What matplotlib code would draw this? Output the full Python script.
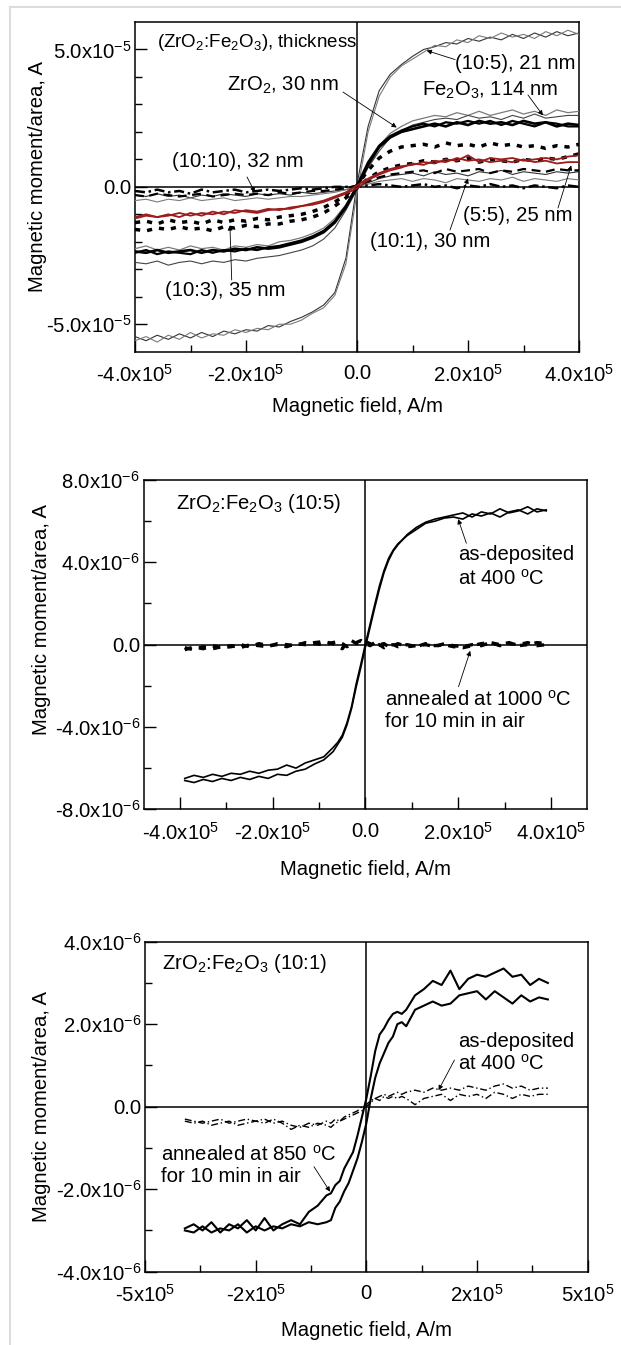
import matplotlib
matplotlib.use("Agg")
import matplotlib.pyplot as plt
from matplotlib.lines import Line2D
import numpy as np

plt.rcParams['font.family'] = ['Liberation Sans', 'DejaVu Sans']
plt.rcParams['mathtext.fontset'] = 'custom'
plt.rcParams['mathtext.rm'] = 'Liberation Sans'
plt.rcParams['mathtext.it'] = 'Liberation Sans:italic'
plt.rcParams['mathtext.bf'] = 'Liberation Sans:bold'
plt.rcParams['mathtext.default'] = 'regular'

# ---------------- DATA ----------------
# Panel 1: field in units of 1e5 A/m, moment in units of 1e-5 A
field1 = [-4.0, -3.8, -3.6, -3.4, -3.2, -3.0, -2.8, -2.6, -2.4, -2.2, -2.0, -1.8, -1.6, -1.4,
          -1.2, -1.0, -0.8, -0.6, -0.4, -0.2, 0.0, 0.2, 0.4, 0.6, 0.8, 1.0, 1.2, 1.4, 1.6, 1.8,
          2.0, 2.2, 2.4, 2.6, 2.8, 3.0, 3.2, 3.4, 3.6, 3.8, 4.0]

m105_a = [-5.45, -5.6, -5.4, -5.55, -5.35, -5.5, -5.3, -5.45, -5.25, -5.35, -5.2, -5.25, -5.05, -5.1,
          -4.9, -4.75, -4.55, -4.3, -3.85, -2.6, 0.1,
          2.2, 3.5, 4.1, 4.45, 4.75, 5.0, 5.1, 5.25, 5.2, 5.4, 5.3, 5.45, 5.35, 5.55, 5.4, 5.6, 5.45, 5.65, 5.5, 5.6]
m105_b = [-5.6, -5.45, -5.65, -5.4, -5.55, -5.3, -5.5, -5.35, -5.4, -5.2, -5.3, -5.15, -5.2, -5.0,
          -5.0, -4.85, -4.6, -4.4, -3.95, -2.8, -0.2,
          2.0, 3.3, 4.0, 4.4, 4.65, 4.9, 5.15, 5.1, 5.35, 5.25, 5.5, 5.4, 5.6, 5.45, 5.55, 5.4, 5.65, 5.5, 5.7, 5.55]
fe2o3_a = [-2.25, -2.15, -2.3, -2.2, -2.3, -2.15, -2.25, -2.2, -2.3, -2.15, -2.2, -2.1, -2.15, -2.0,
           -1.95, -1.85, -1.7, -1.5, -1.15, -0.65, 0.0,
           0.8, 1.5, 1.95, 2.2, 2.4, 2.5, 2.6, 2.55, 2.7, 2.6, 2.75, 2.6, 2.7, 2.8, 2.65, 2.75, 2.6, 2.8, 2.7, 2.75]
fe2o3_b = [-2.75, -2.8, -2.7, -2.85, -2.75, -2.7, -2.8, -2.7, -2.75, -2.65, -2.7, -2.6, -2.55, -2.5,
           -2.4, -2.3, -2.15, -1.9, -1.5, -0.85, -0.1,
           0.7, 1.3, 1.8, 2.05, 2.25, 2.35, 2.45, 2.5, 2.45, 2.6, 2.5, 2.55, 2.45, 2.6, 2.5, 2.65, 2.5, 2.55, 2.6, 2.6]
zro2_a = [-2.35, -2.4, -2.3, -2.4, -2.35, -2.3, -2.4, -2.3, -2.35, -2.25, -2.3, -2.2, -2.25, -2.2,
          -2.1, -2.0, -1.85, -1.65, -1.3, -0.75, 0.0,
          0.8, 1.45, 1.8, 2.0, 2.1, 2.2, 2.3, 2.2, 2.35, 2.25, 2.4, 2.3, 2.35, 2.25, 2.4, 2.3, 2.35, 2.2, 2.3, 2.25]
zro2_b = [-2.4, -2.3, -2.45, -2.35, -2.4, -2.45, -2.3, -2.4, -2.3, -2.35, -2.25, -2.3, -2.2, -2.15,
          -2.05, -1.95, -1.8, -1.6, -1.25, -0.7, 0.05,
          0.9, 1.5, 1.85, 2.05, 2.2, 2.3, 2.2, 2.35, 2.3, 2.4, 2.3, 2.4, 2.25, 2.4, 2.3, 2.2, 2.35, 2.3, 2.2, 2.2]
m103_a = [-1.3, -1.25, -1.35, -1.2, -1.3, -1.25, -1.35, -1.2, -1.3, -1.2, -1.25, -1.15, -1.2, -1.1,
          -1.05, -1.0, -0.9, -0.75, -0.55, -0.3, 0.05,
          0.6, 1.05, 1.3, 1.45, 1.5, 1.55, 1.45, 1.6, 1.5, 1.55, 1.45, 1.6, 1.5, 1.55, 1.45, 1.5, 1.4, 1.5, 1.45, 1.55]
m103_b = [-1.55, -1.6, -1.5, -1.55, -1.45, -1.55, -1.5, -1.6, -1.45, -1.5, -1.4, -1.45, -1.35, -1.35,
          -1.25, -1.2, -1.1, -0.95, -0.7, -0.4, -0.05,
          0.3, 0.55, 0.7, 0.8, 0.85, 0.95, 0.9, 1.0, 0.95, 1.05, 0.9, 1.0, 0.95, 0.9, 1.0, 0.95, 1.05, 1.0, 1.1, 1.2]
m55_a = [-1.1, -1.0, -1.1, -1.05, -0.95, -1.05, -0.95, -1.0, -0.9, -0.95, -0.85, -0.9, -0.8, -0.85,
         -0.75, -0.7, -0.6, -0.5, -0.35, -0.2, 0.05,
         0.3, 0.5, 0.65, 0.75, 0.8, 0.9, 0.85, 1.0, 0.95, 1.15, 0.9, 1.05, 1.0, 1.05, 0.95, 1.0, 1.05, 1.0, 1.1, 1.15]
m55_b = [-1.15, -1.05, -1.1, -1.0, -1.1, -0.95, -1.05, -0.9, -1.0, -0.85, -0.9, -0.95, -0.85, -0.8,
         -0.8, -0.7, -0.65, -0.55, -0.4, -0.25, -0.05,
         0.25, 0.45, 0.6, 0.7, 0.85, 0.8, 0.95, 0.9, 1.05, 0.95, 1.0, 0.9, 0.95, 0.9, 1.0, 0.9, 0.95, 0.85, 0.9, 0.9]
m101_a = [-0.3, -0.35, -0.25, -0.35, -0.3, -0.4, -0.3, -0.35, -0.25, -0.3, -0.35, -0.25, -0.3, -0.25,
          -0.3, -0.2, -0.25, -0.2, -0.15, -0.1, 0.0,
          0.15, 0.3, 0.4, 0.45, 0.5, 0.4, 0.55, 0.45, 0.5, 0.4, 0.55, 0.5, 0.6, 0.45, 0.55, 0.5, 0.45, 0.55, 0.5, 0.55]
m101_b = [-0.5, -0.45, -0.55, -0.45, -0.5, -0.4, -0.5, -0.45, -0.4, -0.5, -0.45, -0.4, -0.45, -0.4,
          -0.35, -0.35, -0.3, -0.25, -0.2, -0.1, 0.0,
          0.1, 0.2, 0.25, 0.3, 0.2, 0.3, 0.25, 0.15, 0.3, 0.25, 0.2, 0.3, 0.25, 0.35, 0.2, 0.3, 0.25, 0.2, 0.3, 0.25]
m1010_a = [-0.15, -0.2, -0.1, -0.2, -0.15, -0.25, -0.1, -0.2, -0.15, -0.1, -0.2, -0.15, -0.1, -0.15,
           -0.1, -0.05, -0.1, -0.05, 0.0, 0.0, 0.0,
           0.05, 0.1, 0.05, 0.0, 0.05, 0.1, 0.0, 0.05, -0.05, 0.05, 0.0, 0.1, 0.0, 0.05, -0.05, 0.05, 0.0, -0.05, 0.05, 0.0]
m1010_b = [-0.3, -0.35, -0.25, -0.3, -0.35, -0.3, -0.25, -0.35, -0.3, -0.25, -0.3, -0.25, -0.3, -0.2,
           -0.25, -0.2, -0.15, -0.15, -0.1, -0.05, 0.05,
           0.2, 0.35, 0.45, 0.5, 0.55, 0.6, 0.5, 0.65, 0.55, 0.6, 0.65, 0.5, 0.6, 0.55, 0.65, 0.6, 0.55, 0.65, 0.6, 0.6]

# Panel 2: field in 1e5 A/m, moment in 1e-6 A
field2 = [-3.9, -3.7, -3.5, -3.3, -3.1, -2.9, -2.7, -2.5, -2.3, -2.1, -1.9, -1.7, -1.5, -1.3, -1.1, -0.9, -0.7,
          -0.6, -0.5, -0.4, -0.3, -0.2, -0.1, 0.0, 0.1, 0.2, 0.3, 0.4, 0.5, 0.6,
          0.7, 0.9, 1.1, 1.3, 1.5, 1.7, 1.9, 2.1, 2.3, 2.5, 2.7, 2.9, 3.1, 3.3, 3.5, 3.7, 3.9]
asdep2_a = [-6.5, -6.35, -6.45, -6.3, -6.4, -6.25, -6.3, -6.15, -6.25, -6.1, -6.05, -5.85, -6.0, -5.75, -5.6, -5.45, -5.0,
            -4.75, -4.4, -3.8, -3.0, -1.9, -0.95, 0.05, 1.0, 1.95, 2.85, 3.6, 4.2, 4.6,
            4.9, 5.3, 5.6, 5.9, 6.0, 6.15, 6.2, 6.1, 6.35, 6.25, 6.4, 6.2, 6.45, 6.55, 6.35, 6.6, 6.5]
asdep2_b = [-6.6, -6.7, -6.55, -6.65, -6.5, -6.6, -6.45, -6.55, -6.4, -6.5, -6.3, -6.35, -6.15, -6.05, -5.8, -5.6, -5.2,
            -4.85, -4.5, -3.9, -3.1, -2.05, -1.1, -0.1, 0.85, 1.8, 2.7, 3.5, 4.1, 4.55,
            4.85, 5.35, 5.7, 5.95, 6.1, 6.2, 6.3, 6.4, 6.2, 6.45, 6.35, 6.6, 6.4, 6.5, 6.7, 6.45, 6.55]
ann2_a = [-0.25, -0.1, -0.2, -0.05, -0.15, -0.1, 0.0, -0.1, 0.05, -0.05, 0.0, -0.1, 0.05, 0.0, 0.1, 0.15, 0.05,
          -0.1, -0.2, 0.1, 0.2, 0.05, 0.1, 0.15, 0.05, -0.1, 0.0, -0.15, -0.05, 0.0,
          -0.1, 0.0, -0.1, 0.05, -0.05, 0.0, -0.1, -0.15, -0.05, 0.05, 0.1, 0.0, 0.1, -0.05, 0.0, 0.1, 0.05]
ann2_b = [-0.15, -0.25, -0.1, -0.2, -0.1, -0.05, -0.15, 0.0, -0.05, -0.1, 0.05, 0.0, -0.05, 0.1, 0.05, 0.0, 0.1,
          0.15, 0.05, -0.1, 0.0, 0.1, 0.2, 0.05, -0.05, 0.1, 0.0, 0.05, -0.1, -0.05,
          0.05, -0.1, -0.05, 0.0, -0.1, 0.05, -0.05, -0.1, 0.0, -0.05, 0.1, -0.05, 0.05, 0.0, 0.1, -0.05, 0.0]

# Panel 3: field in 1e5 A/m, moment in 1e-6 A
field3 = [-4.1, -3.9, -3.7, -3.5, -3.3, -3.1, -2.9, -2.7, -2.5, -2.3, -2.1, -1.9, -1.7, -1.5, -1.3, -1.1, -0.9,
          -0.8, -0.7, -0.6, -0.5, -0.4, -0.3, -0.2, -0.1, 0.0, 0.1, 0.2, 0.3, 0.4, 0.5, 0.6, 0.7, 0.8,
          0.9, 1.1, 1.3, 1.5, 1.7, 1.9, 2.1, 2.3, 2.5, 2.7, 2.9, 3.1, 3.3, 3.5, 3.7, 3.9, 4.1]
ann3_a = [-2.95, -2.85, -3.0, -2.8, -3.05, -2.85, -2.95, -2.75, -3.0, -2.7, -3.0, -2.85, -2.75, -2.85, -2.55, -2.4, -2.15,
          -2.1, -1.9, -1.8, -1.5, -1.3, -1.1, -0.7, -0.25, 0.2, 0.75, 1.35, 1.75, 1.9, 2.1, 2.25, 2.3, 2.25,
          2.35, 2.7, 2.85, 3.05, 2.95, 3.3, 2.85, 3.1, 3.2, 3.15, 3.25, 3.35, 3.15, 3.2, 2.95, 3.1, 3.0]
ann3_b = [-3.0, -3.05, -2.9, -3.05, -2.95, -3.0, -2.85, -3.05, -2.9, -3.0, -2.9, -2.95, -2.85, -2.9, -2.8, -2.85, -2.8,
          -2.75, -2.45, -2.3, -2.05, -1.85, -1.55, -1.25, -0.85, -0.4, 0.2, 0.7, 1.05, 1.3, 1.55, 1.7, 2.0, 2.05,
          1.95, 2.35, 2.45, 2.55, 2.45, 2.5, 2.7, 2.75, 2.8, 2.6, 2.8, 2.65, 2.5, 2.7, 2.55, 2.65, 2.6]
asdep3_a = [-0.35, -0.4, -0.35, -0.45, -0.4, -0.35, -0.45, -0.4, -0.35, -0.3, -0.4, -0.35, -0.45, -0.5, -0.4, -0.45, -0.35,
            -0.4, -0.3, -0.35, -0.25, -0.2, -0.15, -0.1, 0.0, 0.05, 0.15, 0.2, 0.25, 0.3, 0.25, 0.3, 0.35, 0.3,
            0.35, 0.4, 0.35, 0.45, 0.4, 0.45, 0.4, 0.5, 0.45, 0.4, 0.5, 0.55, 0.45, 0.5, 0.4, 0.45, 0.45]
asdep3_b = [-0.3, -0.35, -0.4, -0.35, -0.3, -0.4, -0.35, -0.3, -0.35, -0.4, -0.3, -0.4, -0.55, -0.45, -0.5, -0.4, -0.45,
            -0.5, -0.4, -0.35, -0.3, -0.25, -0.2, -0.15, -0.1, 0.0, 0.1, 0.2, 0.15, 0.25, 0.2, 0.25, 0.2, 0.25,
            0.2, 0.05, 0.2, 0.25, 0.3, 0.15, 0.3, 0.25, 0.3, 0.2, 0.35, 0.3, 0.2, 0.3, 0.25, 0.3, 0.3]

# Tick labels
p1_xticks = [-4e5, -2e5, 0, 2e5, 4e5]
p1_xlabels = ["-4.0x10$^{5}$", "-2.0x10$^{5}$", "0.0", "2.0x10$^{5}$", "4.0x10$^{5}$"]
p1_yticks = [-5e-5, 0, 5e-5]
p1_ylabels = ["-5.0x10$^{-5}$", "0.0", "5.0x10$^{-5}$"]
p2_xticks = [-4e5, -2e5, 0, 2e5, 4e5]
p2_xlabels = ["-4.0x10$^{5}$", "-2.0x10$^{5}$", "0.0", "2.0x10$^{5}$", "4.0x10$^{5}$"]
p2_yticks = [-8e-6, -4e-6, 0, 4e-6, 8e-6]
p2_ylabels = ["-8.0x10$^{-6}$", "-4.0x10$^{-6}$", "0.0", "4.0x10$^{-6}$", "8.0x10$^{-6}$"]
p3_xticks = [-5e5, -2.5e5, 0, 2.5e5, 5e5]
p3_xlabels = ["-5x10$^{5}$", "-2x10$^{5}$", "0", "2x10$^{5}$", "5x10$^{5}$"]
p3_yticks = [-4e-6, -2e-6, 0, 2e-6, 4e-6]
p3_ylabels = ["-4.0x10$^{-6}$", "-2.0x10$^{-6}$", "0.0", "2.0x10$^{-6}$", "4.0x10$^{-6}$"]

xlabel_text = "Magnetic field, A/m"
ylabel_text = "Magnetic moment/area, A"

# ---------------- FIGURE ----------------
W, H = 621, 1345
fig = plt.figure(figsize=(W / 100, H / 100), dpi=100)
fig.patch.set_facecolor('white')

def px_axes(l, t, r, b):
    return fig.add_axes([l / W, 1 - b / H, (r - l) / W, (b - t) / H])

FS = 14.6

def setup(ax, xlim, ylim, xt, xl, xminor, yt, yl, yminor, ylab_pos, xlab_off):
    ax.set_xlim(*xlim)
    ax.set_ylim(*ylim)
    ax.set_xticks(xt)
    ax.set_xticklabels(xl)
    ax.set_xticks(xminor, minor=True)
    ax.set_yticks(yt)
    ax.set_yticklabels(yl)
    ax.set_yticks(yminor, minor=True)
    ax.tick_params(which='both', direction='in', top=False, right=False, labelsize=FS)
    ax.tick_params(which='major', length=8.5, width=1.0)
    ax.tick_params(which='minor', length=5.0, width=1.0)
    ax.tick_params(axis='x', which='major', pad=9)
    ax.tick_params(axis='y', which='major', pad=2.5)
    for s in ax.spines.values():
        s.set_linewidth(1.1)
    ax.axhline(0, color='black', lw=1.1, zorder=1)
    ax.axvline(0, color='black', lw=1.1, zorder=1)
    ax.set_xlabel(xlabel_text, fontsize=FS)
    ax.set_ylabel(ylabel_text, fontsize=FS)
    ax.xaxis.set_label_coords(0.5, xlab_off)
    ax.xaxis.label.set_va('center')
    ax.yaxis.set_label_coords(*ylab_pos)
    ax.yaxis.label.set_va('center')

arrow_kw = dict(arrowstyle='-|>', lw=0.6, color='black', mutation_scale=7, shrinkA=0, shrinkB=0)

def arrow(ax, tip, tail):
    ax.annotate('', xy=tip, xycoords='data', xytext=tail, textcoords='axes fraction',
                arrowprops=arrow_kw, zorder=6)

# ---------- Panel 1 ----------
ax1 = px_axes(135, 22, 579, 351.7)
setup(ax1, (-4e5, 4e5), (-6e-5, 6e-5), p1_xticks, p1_xlabels, [-3e5, -1e5, 1e5, 3e5],
      p1_yticks, p1_ylabels, [-4e-5, -3e-5, -2e-5, -1e-5, 1e-5, 2e-5, 3e-5, 4e-5],
      (-0.22, 0.53), -0.167)

f1 = np.array(field1) * 1e5
s1 = 1e-5
red = '#9b1c1c'
grey = '#7a7a7a'
ax1.plot(f1, np.array(m105_a) * s1, color='#333333', lw=0.8, zorder=3)
ax1.plot(f1, np.array(m105_b) * s1, color=grey, lw=0.8, zorder=3)
ax1.plot(f1, np.array(fe2o3_a) * s1, color=grey, lw=0.9, zorder=3)
ax1.plot(f1, np.array(fe2o3_b) * s1, color='#444444', lw=0.8, zorder=3)
ax1.plot(f1, np.array(zro2_a) * s1, color='black', lw=1.9, zorder=3)
ax1.plot(f1, np.array(zro2_b) * s1, color='black', lw=1.6, zorder=3)
ax1.plot(f1, np.array(m103_a) * s1, color='black', lw=2.5, ls=(0, (1.5, 2.0)), zorder=3)
ax1.plot(f1, np.array(m103_b) * s1, color='black', lw=2.5, ls=(0, (1.5, 2.0)), zorder=3)
ax1.plot(f1, np.array(m55_a) * s1, color=red, lw=1.3, zorder=4)
ax1.plot(f1, np.array(m55_b) * s1, color=red, lw=1.3, zorder=4)
ax1.plot(f1, np.array(m101_a) * s1, color='#333333', lw=0.8, zorder=3)
ax1.plot(f1, np.array(m101_b) * s1, color=grey, lw=0.8, zorder=3)
ax1.plot(f1, np.array(m1010_a) * s1, color='black', lw=1.8, ls=(0, (4, 1.5, 1, 1.5)), zorder=3)
ax1.plot(f1, np.array(m1010_b) * s1, color='black', lw=1.6, ls=(0, (4, 2.5)), zorder=3)

T = dict(fontsize=FS, ha='left', va='center', transform=ax1.transAxes, zorder=7)
ax1.text(0.0495, 0.939, "(ZrO$_2$:Fe$_2$O$_3$), thickness", fontsize=13.5, ha='left', va='center',
         transform=ax1.transAxes, zorder=7)
ax1.text(0.721, 0.875, "(10:5), 21 nm", **T)
ax1.text(0.2065, 0.809, "ZrO$_2$, 30 nm", **T)
ax1.text(0.6457, 0.7916, "Fe$_2$O$_3$, 114 nm", **T)
ax1.text(0.0827, 0.5763, "(10:10), 32 nm", **T)
ax1.text(0.0676, 0.1871, "(10:3), 35 nm", **T)
ax1.text(0.529, 0.3336, "(10:1), 30 nm", **T)
ax1.text(0.739, 0.4125, "(5:5), 25 nm", **T)
arrow(ax1, (1.256e5, 4.96e-5), (0.721, 0.886))
arrow(ax1, (0.715e5, 2.16e-5), (0.4685, 0.7875))
arrow(ax1, (3.35e5, 2.6e-5), (0.8851, 0.7786))
arrow(ax1, (-1.84e5, -0.2e-5), (0.2523, 0.5299))
arrow(ax1, (-2.29e5, -1.4e-5), (0.2178, 0.2175))
arrow(ax1, (2.0e5, 0.31e-5), (0.7095, 0.3691))
arrow(ax1, (3.86e5, 0.78e-5), (0.9527, 0.4358))

# ---------- Panel 2 ----------
ax2 = px_axes(143.5, 480, 587, 809.3)
setup(ax2, (-4.79e5, 4.78e5), (-8e-6, 8e-6), p2_xticks, p2_xlabels, [-3e5, -1e5, 1e5, 3e5],
      p2_yticks, p2_ylabels, [-6e-6, -2e-6, 2e-6, 6e-6], (-0.23, 0.575), -0.184)
f2 = np.array(field2) * 1e5
s2 = 1e-6
ax2.plot(f2, np.array(asdep2_a) * s2, color='black', lw=1.2, zorder=3)
ax2.plot(f2, np.array(asdep2_b) * s2, color='black', lw=1.2, zorder=3)
ax2.plot(f2, np.array(ann2_a) * s2, color='black', lw=2.4, ls=(0, (2.2, 2.2)), zorder=3)
ax2.plot(f2, np.array(ann2_b) * s2, color='black', lw=2.4, ls=(0, (2.2, 2.2)), zorder=3)
T2 = dict(fontsize=FS, ha='left', va='center', transform=ax2.transAxes, zorder=7)
ax2.text(0.073, 0.929, "ZrO$_2$:Fe$_2$O$_3$ (10:5)", **T2)
ax2.text(0.7085, 0.7367, "as-deposited\nat 400 $^{o}$C", linespacing=1.3, **T2)
ax2.text(0.5454, 0.3015, "annealed at 1000 $^{o}$C\nfor 10 min in air", linespacing=1.15, **T2)
arrow(ax2, (2.0e5, 6.1e-6), (0.728, 0.8078))
arrow(ax2, (2.26e5, -0.3e-6), (0.7103, 0.3723))

# ---------- Panel 3 ----------
ax3 = px_axes(145, 941.7, 587.7, 1271.7)
setup(ax3, (-5e5, 5e5), (-4e-6, 4e-6), p3_xticks, p3_xlabels, [-3.75e5, -1.25e5, 1.25e5, 3.75e5],
      p3_yticks, p3_ylabels, [-3e-6, -1e-6, 1e-6, 3e-6], (-0.234, 0.5), -0.178)
f3 = np.array(field3) * 1e5
ax3.plot(f3, np.array(ann3_a) * s2, color='black', lw=1.5, zorder=3)
ax3.plot(f3, np.array(ann3_b) * s2, color='black', lw=1.5, zorder=3)
ax3.plot(f3, np.array(asdep3_a) * s2, color='black', lw=1.0, ls=(0, (5, 2, 1, 2)), zorder=3)
ax3.plot(f3, np.array(asdep3_b) * s2, color='black', lw=1.0, ls=(0, (5, 2, 1, 2)), zorder=3)
T3 = dict(fontsize=FS, ha='left', va='center', transform=ax3.transAxes, zorder=7)
ax3.text(0.0384, 0.9345, "ZrO$_2$:Fe$_2$O$_3$ (10:1)", **T3)
ax3.text(0.7063, 0.6633, "as-deposited\nat 400 $^{o}$C", linespacing=1.15, **T3)
ax3.text(0.0368, 0.3233, "annealed at 850 $^{o}$C\nfor 10 min in air", linespacing=1.15, **T3)
arrow(ax3, (1.63e5, 0.4e-6), (0.699, 0.6415))
arrow(ax3, (-0.82e5, -2.06e-6), (0.3817, 0.3182))

# light frame lines of the page
fig.add_artist(Line2D([10 / W, 10 / W], [1 - 7 / H, 0], transform=fig.transFigure, color='#dcdcdc', lw=1.5))
fig.add_artist(Line2D([10 / W, 1], [1 - 7 / H, 1 - 7 / H], transform=fig.transFigure, color='#dcdcdc', lw=1.5))

fig.savefig("out.png", dpi=100, facecolor='white')
